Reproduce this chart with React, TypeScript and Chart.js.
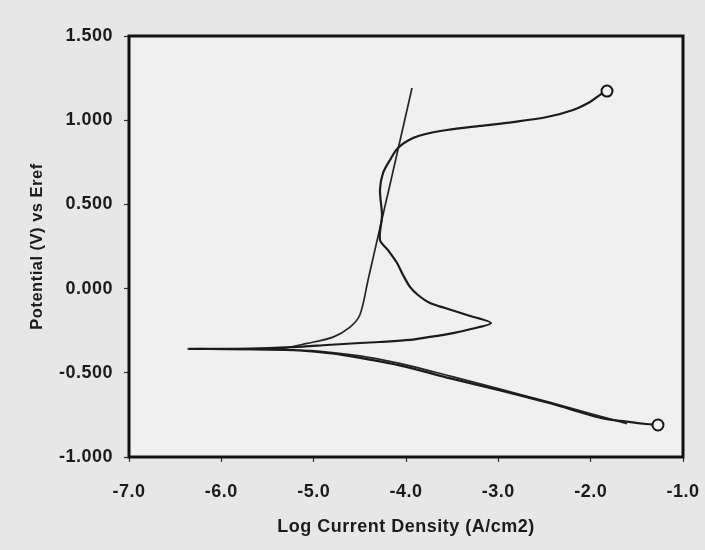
import React, { useEffect, useRef } from "react";
import { Chart, registerables } from "chart.js";

Chart.register(...registerables);

// Measured polarization curve: cathodic end -> Ecorr -> anodic branch (nose, loop) -> end
const measuredLogI = [
  -1.271, -1.4, -1.68, -1.9, -2.44, -2.98, -3.52, -4.07, -4.69, -4.93, -5.22, -5.69, -6.36,
  -5.69, -5.224, -4.855, -4.498, -4.282, -3.957, -3.74, -3.491, -3.339, -3.08,
  -3.339, -3.577, -3.74, -3.87, -3.957, -4.032, -4.097, -4.195, -4.282,
  -4.26, -4.282, -4.249, -4.173, -4.087, -3.924, -3.74, -3.556, -3.198, -2.841, -2.473, -2.191,
  -2.007, -1.899, -1.823,
];
const measuredPotential = [
  -0.81, -0.804, -0.786, -0.766, -0.681, -0.604, -0.533, -0.456, -0.394, -0.378, -0.366, -0.36, -0.358,
  -0.356, -0.347, -0.335, -0.323, -0.317, -0.305, -0.287, -0.264, -0.246, -0.205,
  -0.157, -0.115, -0.086, -0.038, 0.01, 0.081, 0.152, 0.229, 0.289,
  0.437, 0.586, 0.686, 0.764, 0.835, 0.894, 0.924, 0.942, 0.966, 0.989, 1.019, 1.061,
  1.108, 1.15, 1.173,
];

// Tafel fit curve (cathodic + anodic)
const fitLogI = [
  -1.606, -2.44, -3.0, -3.52, -4.07, -4.5, -4.93, -5.37, -6.36,
  -5.37, -5.07, -4.79, -4.61, -4.5, -4.411, -4.312, -4.162, -4.088, -3.935,
];
const fitPotential = [
  -0.802, -0.676, -0.594, -0.52, -0.444, -0.4, -0.372, -0.362, -0.359,
  -0.356, -0.325, -0.288, -0.23, -0.157, 0.051, 0.289, 0.645, 0.823, 1.191,
];

// Open circle markers at the ends of the measured scan
const endpointLogI = [-1.271, -1.823];
const endpointPotential = [-0.81, 1.173];

const xTickValues = [-7, -6, -5, -4, -3, -2, -1];
const yTickValues = [-1, -0.5, 0, 0.5, 1, 1.5];

const xTitle = "Log Current Density (A/cm2)";
const yTitle = "Potential (V) vs Eref";

const FONT = "'Liberation Sans', Arial, Helvetica, sans-serif";
const INK = "#1b1b1b";

const toPoints = (xs: number[], ys: number[]) => xs.map((x, i) => ({ x, y: ys[i] }));

const backgroundPlugin = {
  id: "paperBackground",
  beforeDraw(chart: any) {
    const { ctx, chartArea } = chart;
    ctx.save();
    ctx.fillStyle = "#e7e7e7";
    ctx.fillRect(0, 0, chart.width, chart.height);
    ctx.fillStyle = "#f0f0f0";
    ctx.fillRect(chartArea.left, chartArea.top, chartArea.right - chartArea.left, chartArea.bottom - chartArea.top);
    ctx.restore();
    try {
      (ctx as any).letterSpacing = "0.5px";
    } catch (e) {
      /* ignore */
    }
  },
  afterDraw(chart: any) {
    const { ctx, chartArea } = chart;
    ctx.save();
    ctx.strokeStyle = "#111";
    ctx.lineWidth = 3;
    ctx.strokeRect(chartArea.left, chartArea.top, chartArea.right - chartArea.left, chartArea.bottom - chartArea.top);
    ctx.restore();
  },
};

export default function App() {
  const canvasRef = useRef<HTMLCanvasElement | null>(null);

  useEffect(() => {
    if (!canvasRef.current) return;
    const chart = new Chart(canvasRef.current, {
      type: "scatter",
      data: {
        datasets: [
          {
            label: "endpoints",
            data: toPoints(endpointLogI, endpointPotential),
            showLine: false,
            pointRadius: 5.5,
            pointBackgroundColor: "#f3f3f3",
            pointBorderColor: "#151515",
            pointBorderWidth: 2,
            order: 0,
          },
          {
            label: "measured",
            data: toPoints(measuredLogI, measuredPotential),
            showLine: true,
            borderColor: INK,
            borderWidth: 2.2,
            pointRadius: 0,
            tension: 0.3,
            fill: false,
            order: 1,
          },
          {
            label: "fit",
            data: toPoints(fitLogI, fitPotential),
            showLine: true,
            borderColor: "#262626",
            borderWidth: 1.7,
            pointRadius: 0,
            tension: 0.3,
            fill: false,
            order: 2,
          },
        ],
      },
      options: {
        animation: false,
        responsive: true,
        maintainAspectRatio: false,
        layout: { padding: { left: 0, top: 36, right: 22, bottom: 0 } },
        plugins: {
          legend: { display: false },
          tooltip: { enabled: false },
        },
        scales: {
          x: {
            type: "linear",
            min: -7,
            max: -1,
            afterBuildTicks: (scale: any) => {
              scale.ticks = xTickValues.map((v) => ({ value: v }));
            },
            afterFit: (scale: any) => {
              scale.height = 93;
              scale.paddingLeft = 0;
              scale.paddingRight = 0;
            },
            border: { display: false },
            grid: { drawOnChartArea: false, drawTicks: true, tickLength: 5, tickColor: "#333", tickWidth: 1.2 },
            ticks: {
              color: INK,
              padding: 19,
              maxRotation: 0,
              font: { family: FONT, size: 18, weight: "bold" },
              callback: (v: any) => Number(v).toFixed(1),
            },
            title: {
              display: true,
              text: xTitle,
              color: INK,
              font: { family: FONT, size: 18, weight: "bold" },
              padding: { top: 0, bottom: 12 },
            },
          },
          y: {
            type: "linear",
            min: -1,
            max: 1.5,
            afterBuildTicks: (scale: any) => {
              scale.ticks = yTickValues.map((v) => ({ value: v }));
            },
            afterFit: (scale: any) => {
              scale.width = 129;
              scale.paddingTop = 0;
              scale.paddingBottom = 0;
            },
            border: { display: false },
            grid: { drawOnChartArea: false, drawTicks: true, tickLength: 5, tickColor: "#333", tickWidth: 1.2 },
            ticks: {
              color: INK,
              padding: 11,
              font: { family: FONT, size: 18, weight: "bold" },
              callback: (v: any) => Number(v).toFixed(3),
            },
            title: {
              display: true,
              text: yTitle,
              color: INK,
              font: { family: FONT, size: 16.5, weight: "bold" },
              padding: { top: 28, bottom: 0 },
            },
          },
        },
      },
      plugins: [backgroundPlugin],
    } as any);
    return () => chart.destroy();
  }, []);

  return (
    <div style={{ position: "fixed", left: 0, top: 0, width: 705, height: 550 }}>
      <canvas ref={canvasRef} />
    </div>
  );
}
